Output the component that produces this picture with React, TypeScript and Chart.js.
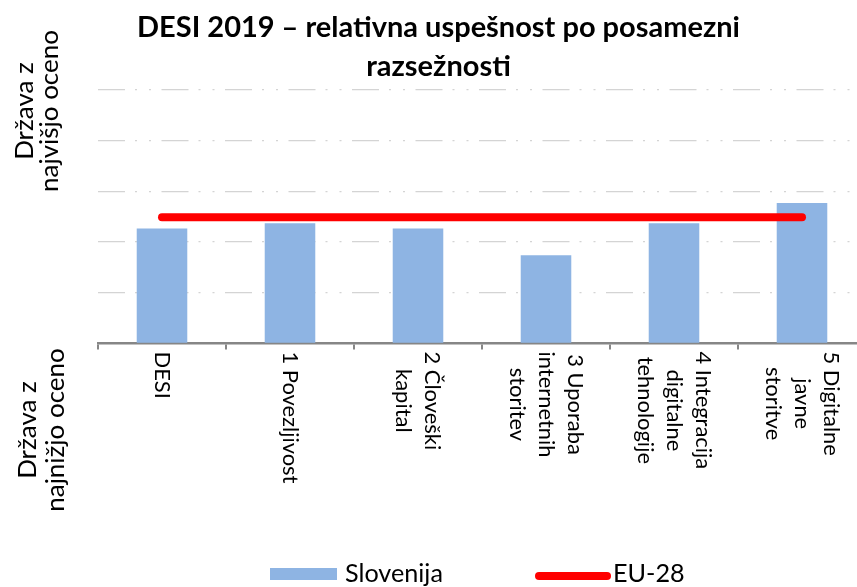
import React, { useEffect, useRef } from "react";
import { Chart, registerables } from "chart.js";

Chart.register(...registerables);

const TITLE_LINES = ["DESI 2019 – relativna uspešnost po posamezni", "razsežnosti"];
const CATEGORIES: string[][] = [
  ["DESI"],
  ["1 Povezljivost"],
  ["2 Človeški", "kapital"],
  ["3 Uporaba", "internetnih", "storitev"],
  ["4 Integracija", "digitalne", "tehnologije"],
  ["5 Digitalne", "javne", "storitve"],
];
const SLOVENIJA = [0.454, 0.474, 0.454, 0.348, 0.474, 0.554];
const EU28 = [0.498, 0.498, 0.498, 0.498, 0.498, 0.498];
const Y_MIN = 0;
const Y_MAX = 1;
const Y_STEP = 0.2;
const TOP_LABEL = ["Država z", "najvišjo oceno"];
const BOTTOM_LABEL = ["Država z", "najnižjo oceno"];
const SERIES_NAMES = ["Slovenija", "EU-28"];

const FONT = "Lato, 'Open Sans', sans-serif";
const BAR_COLOR = "#8EB4E3";
const LINE_COLOR = "#FF0000";

function fitSize(ctx: CanvasRenderingContext2D, text: string, target: number, weight: string) {
  ctx.font = `${weight} 100px ${FONT}`;
  const w = ctx.measureText(text).width;
  return (100 * target) / w;
}

const overlay = {
  id: "overlay",
  afterDraw(chart: any) {
    const ctx: CanvasRenderingContext2D = chart.ctx;
    const xs = chart.scales.x;
    const area = chart.chartArea;
    ctx.save();
    ctx.fillStyle = "#000";

    // Title
    const ts = fitSize(ctx, TITLE_LINES[0], 603, "bold");
    ctx.font = `bold ${ts}px ${FONT}`;
    ctx.textAlign = "center";
    ctx.textBaseline = "alphabetic";
    ctx.fillText(TITLE_LINES[0], 438.5, 37);
    ctx.fillText(TITLE_LINES[1], 438.5, 76);

    // Category labels (rotated clockwise)
    const ls = fitSize(ctx, "1 Povezljivost", 132, "normal");
    ctx.font = `${ls}px ${FONT}`;
    const lh = 29;
    CATEGORIES.forEach((lines, i) => {
      const cx = xs.getPixelForValue(i);
      const maxW = Math.max(...lines.map((l) => ctx.measureText(l).width));
      const cy = area.bottom + 8 + maxW / 2;
      lines.forEach((line, j) => {
        const x = cx + ((lines.length - 1) / 2 - j) * lh;
        ctx.save();
        ctx.translate(x, cy);
        ctx.rotate(Math.PI / 2);
        ctx.textAlign = "center";
        ctx.textBaseline = "middle";
        ctx.fillText(line, 0, 0);
        ctx.restore();
      });
    });

    // Side labels (rotated counter-clockwise)
    const ss = fitSize(ctx, TOP_LABEL[1], 162, "normal");
    ctx.font = `${ss}px ${FONT}`;
    const side = (lines: string[], xsPos: number[], cy: number) => {
      lines.forEach((line, j) => {
        ctx.save();
        ctx.translate(xsPos[j], cy);
        ctx.rotate(-Math.PI / 2);
        ctx.textAlign = "center";
        ctx.textBaseline = "alphabetic";
        ctx.fillText(line, 0, 0);
        ctx.restore();
      });
    };
    side(TOP_LABEL, [33, 58], 111);
    side(BOTTOM_LABEL, [36, 64], 430);

    // Legend
    const gs = fitSize(ctx, SERIES_NAMES[0], 98, "normal");
    ctx.font = `${gs}px ${FONT}`;
    ctx.textAlign = "left";
    ctx.textBaseline = "alphabetic";
    ctx.fillStyle = BAR_COLOR;
    ctx.fillRect(270, 568, 67, 12);
    ctx.fillStyle = "#000";
    ctx.fillText(SERIES_NAMES[0], 345, 582);
    ctx.strokeStyle = LINE_COLOR;
    ctx.lineWidth = 8;
    ctx.lineCap = "round";
    ctx.beginPath();
    ctx.moveTo(539, 576);
    ctx.lineTo(607, 576);
    ctx.stroke();
    ctx.fillText(SERIES_NAMES[1], 613, 582);

    ctx.restore();
  },
};

export default function App() {
  const ref = useRef<HTMLCanvasElement>(null);
  useEffect(() => {
    if (!ref.current) return;
    const chart = new Chart(ref.current, {
      type: "bar",
      data: {
        labels: CATEGORIES.map((l) => l.join(" ")),
        datasets: [
          {
            type: "line",
            label: SERIES_NAMES[1],
            data: EU28,
            borderColor: LINE_COLOR,
            backgroundColor: LINE_COLOR,
            borderWidth: 8,
            borderCapStyle: "round",
            pointRadius: 0,
            order: 0,
          } as any,
          {
            type: "bar",
            label: SERIES_NAMES[0],
            data: SLOVENIJA,
            backgroundColor: BAR_COLOR,
            barPercentage: 0.395,
            categoryPercentage: 1,
            order: 1,
          },
        ],
      },
      options: {
        responsive: false,
        animation: false,
        layout: { padding: { left: 98, top: 90, right: 14, bottom: 237.5 } },
        plugins: {
          legend: { display: false },
          title: { display: false },
          tooltip: { enabled: false },
        },
        scales: {
          x: {
            ticks: { display: false },
            grid: {
              display: true,
              drawOnChartArea: false,
              drawTicks: true,
              tickLength: 6,
              color: "#868686",
              lineWidth: 2,
              offset: true,
            },
            border: { display: true, color: "#868686", width: 2.5 },
          },
          y: {
            min: Y_MIN,
            max: Y_MAX,
            ticks: { display: false, stepSize: Y_STEP },
            grid: {
              drawTicks: false,
              color: (c: any) => (c.tick && c.tick.value === 0 ? "rgba(0,0,0,0)" : "#d4d4d4"),
              lineWidth: 1.3,
            },
            border: { display: false, dash: [27, 10, 2, 12, 2, 10.5] },
          },
        },
      },
      plugins: [overlay],
    } as any);
    return () => chart.destroy();
  }, []);
  return (
    <div
      style={{
        position: "fixed",
        left: 0,
        top: 0,
        width: 857,
        height: 587,
        overflow: "hidden",
        background: "#fff",
      }}
    >
      <canvas ref={ref} width={880} height={587} style={{ display: "block" }} />
    </div>
  );
}
